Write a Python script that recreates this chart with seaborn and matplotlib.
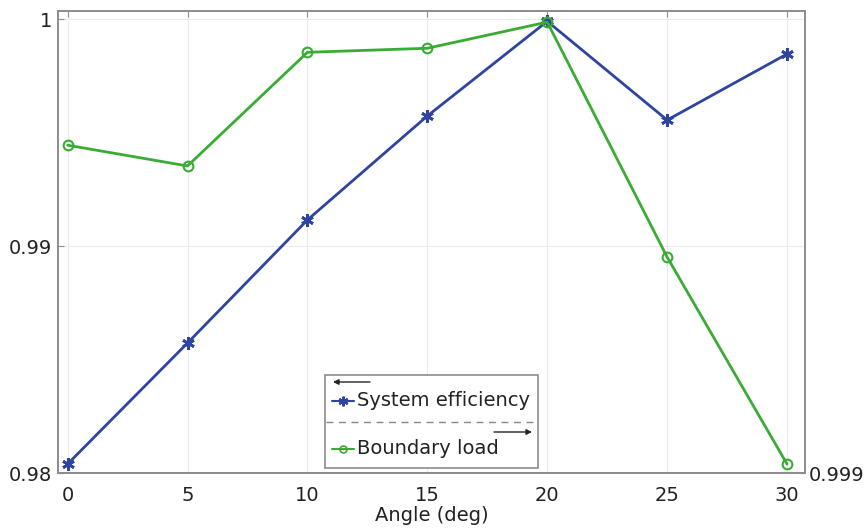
import numpy as np
import pandas as pd
import matplotlib
matplotlib.use("Agg")
import matplotlib.pyplot as plt
import seaborn as sns
from matplotlib.lines import Line2D
from matplotlib.patches import Rectangle, FancyArrowPatch

# data
angles = [0, 5, 10, 15, 20, 25, 30]
system_efficiency = [0.9804, 0.98573, 0.99115, 0.99573, 0.9999, 0.99555, 0.99846]
boundary_load = [0.999727, 0.999681, 0.999933, 0.999942, 1.0, 0.999479, 0.99902]

x_ticks = [0, 5, 10, 15, 20, 25, 30]
left_ticks = [0.98, 0.99, 1.0]
left_labels = ["0.98", "0.99", "1"]
right_ticks = [0.999]
right_labels = ["0.999"]

blue = "#2e44a0"
green = "#3aab35"
frame = "#8c8c8c"
W, H = 866, 528

df = pd.DataFrame({"angle": angles, "eff": system_efficiency, "load": boundary_load})

sns.set_style("white")
plt.rcParams["font.family"] = ["DejaVu Sans"]

fig = plt.figure(figsize=(8.66, 5.28), dpi=100)
ax = fig.add_axes([0.067, 0.104, 0.8626, 0.875])
ax2 = ax.twinx()

sns.lineplot(data=df, x="angle", y="eff", ax=ax, color=blue, lw=2,
             marker=(6, 2, 0), markersize=9, markeredgewidth=2,
             markeredgecolor=blue, legend=False)
sns.lineplot(data=df, x="angle", y="load", ax=ax2, color=green, lw=2,
             marker="o", markersize=7, markerfacecolor="none",
             markeredgewidth=1.5, markeredgecolor=green, legend=False)

ax.set_xlim(-0.4, 30.75)
ax.set_ylim(0.98, 1.00035)
ax2.set_ylim(0.999, 1.0000244)

ax.set_xticks(x_ticks)
ax.set_xticklabels([str(t) for t in x_ticks], fontsize=14)
ax.set_yticks(left_ticks)
ax.set_yticklabels(left_labels, fontsize=14)
ax2.set_yticks(right_ticks)
ax2.set_yticklabels(right_labels, fontsize=14)

ax.set_xlabel("Angle (deg)", fontsize=14, labelpad=1, color="#222222")
ax.set_ylabel("")
ax2.set_ylabel("")

ax.grid(True, color="#ececec", lw=0.8)
ax.set_axisbelow(True)
ax.tick_params(axis="both", direction="in", length=4, color=frame,
               top=True, pad=4, labelcolor="#222222")
ax.tick_params(axis="x", pad=9)
ax2.tick_params(axis="y", direction="in", length=4, color=frame,
                pad=3, labelcolor="#222222")
for a in (ax, ax2):
    for s in a.spines.values():
        s.set_color(frame)
        s.set_linewidth(1.2)


def px(x, y):
    return x / W, 1 - y / H


# legend box drawn by hand (COMSOL style with axis arrows and a separator)
x0, y0 = px(325, 468)
fig.add_artist(Rectangle((x0, y0), 213 / W, 93 / H, transform=fig.transFigure,
                         facecolor="white", edgecolor=frame, lw=1.2, zorder=10))
fig.add_artist(Line2D(*zip(px(326, 422), px(537, 422)), transform=fig.transFigure,
                      color="#888888", lw=1, ls=(0, (5, 4)), zorder=11))

rows = [
    ("System efficiency", 401, blue, dict(marker=(6, 2, 0), markersize=7,
                                          markeredgewidth=1.5)),
    ("Boundary load", 449, green, dict(marker="o", markersize=5,
                                       markerfacecolor="none", markeredgewidth=1.2)),
]
for label, yy, col, mk in rows:
    fig.add_artist(Line2D(*zip(px(332, yy), px(354, yy)), transform=fig.transFigure,
                          color=col, lw=1.5, zorder=11))
    fig.add_artist(Line2D([px(343, yy)[0]], [px(343, yy)[1]], transform=fig.transFigure,
                          color=col, markeredgecolor=col, zorder=12, **mk))
    fig.text(*px(357, yy), label, fontsize=14, va="center", ha="left",
             color="#222222", zorder=12)

# left arrow -> left axis, right arrow -> right axis
for (xs, xe, yy) in [(370, 333, 382), (494, 532, 432)]:
    fig.add_artist(FancyArrowPatch(px(xs, yy), px(xe, yy), transform=fig.transFigure,
                                   arrowstyle="-|>", mutation_scale=8, color="#222222",
                                   lw=1, shrinkA=0, shrinkB=0, zorder=13))

fig.savefig("out.png", dpi=100)
